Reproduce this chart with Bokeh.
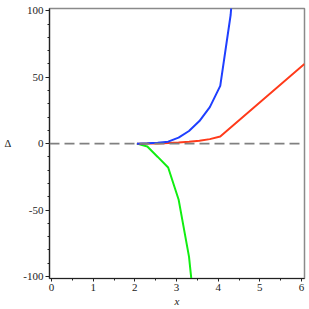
from bokeh.plotting import figure
from bokeh.models import Span, SingleIntervalTicker, Range1d
from bokeh.embed import file_html
from bokeh.resources import INLINE

# Series
blue_x = [2.05, 2.3, 2.55, 2.8, 3.05, 3.3, 3.55, 3.8, 4.05, 4.3, 4.55]
blue_y = [0.0, 0.2, 0.6, 1.5, 4.5, 9.5, 17.0, 27.5, 43.5, 97.0, 200.0]

red_x = [2.05, 2.3, 2.55, 2.8, 3.05, 3.3, 3.55, 3.8, 4.05, 6.07]
red_y = [0.0, 0.05, 0.15, 0.4, 0.8, 1.4, 2.2, 3.4, 5.3, 60.0]

green_x = [2.05, 2.3, 2.55, 2.8, 3.05, 3.3, 3.55]
green_y = [0.0, -2.2, -10.0, -18.0, -42.0, -85.0, -160.0]

x_ticks = [0, 1, 2, 3, 4, 5, 6]
y_ticks = [-100, -50, 0, 50, 100]
y_labels = {-100: "-100", -50: "-50", 0: "0", 50: "50", 100: "100"}

p = figure(width=309, height=309,
           x_range=Range1d(-0.048, 6.072), y_range=Range1d(-101.5, 101.7),
           output_backend="svg", toolbar_location=None,
           min_border_left=49, min_border_right=5,
           min_border_top=8, min_border_bottom=31)

p.background_fill_color = "white"
p.border_fill_color = "white"
p.xgrid.visible = False
p.ygrid.visible = False
p.outline_line_color = "#8a8a8a"
p.outline_line_width = 1.5

zero = Span(location=0, dimension="width", line_color="#808080",
            line_width=1.7, line_dash="10 5")
p.add_layout(zero)

p.line(green_x, green_y, line_color="#11ee11", line_width=2)
p.line(red_x, red_y, line_color="#ff3a1a", line_width=2)
p.line(blue_x, blue_y, line_color="#1f3fff", line_width=2)

p.xaxis.ticker = SingleIntervalTicker(interval=1, num_minor_ticks=2)
p.yaxis.ticker = SingleIntervalTicker(interval=50, num_minor_ticks=5)
p.yaxis.major_label_overrides = y_labels

for ax in (p.xaxis, p.yaxis):
    ax.axis_line_color = "#222222"
    ax.axis_line_width = 1.2
    ax.major_tick_line_color = "#222222"
    ax.minor_tick_line_color = "#222222"
    ax.major_tick_in = 0
    ax.minor_tick_in = 0
    ax.major_tick_out = 4
    ax.minor_tick_out = 2
    ax.major_label_text_font = "Liberation Serif"
    ax.major_label_text_font_size = "11px"
    ax.major_label_text_color = "#222222"
    ax.major_label_standoff = 2
    ax.axis_label_text_font = "Liberation Serif"
    ax.axis_label_text_color = "#222222"

p.xaxis.major_tick_out = 3
p.xaxis.axis_label = "x"
p.xaxis.axis_label_text_font_style = "italic"
p.xaxis.axis_label_text_font_size = "11px"
p.xaxis.axis_label_standoff = 1

p.yaxis.axis_label = "Δ"
p.yaxis.axis_label_orientation = "horizontal"
p.yaxis.axis_label_text_font_style = "normal"
p.yaxis.axis_label_text_font_size = "10.5px"
p.yaxis.axis_label_standoff = 9

open("out.html", "w").write(file_html(p, INLINE))
